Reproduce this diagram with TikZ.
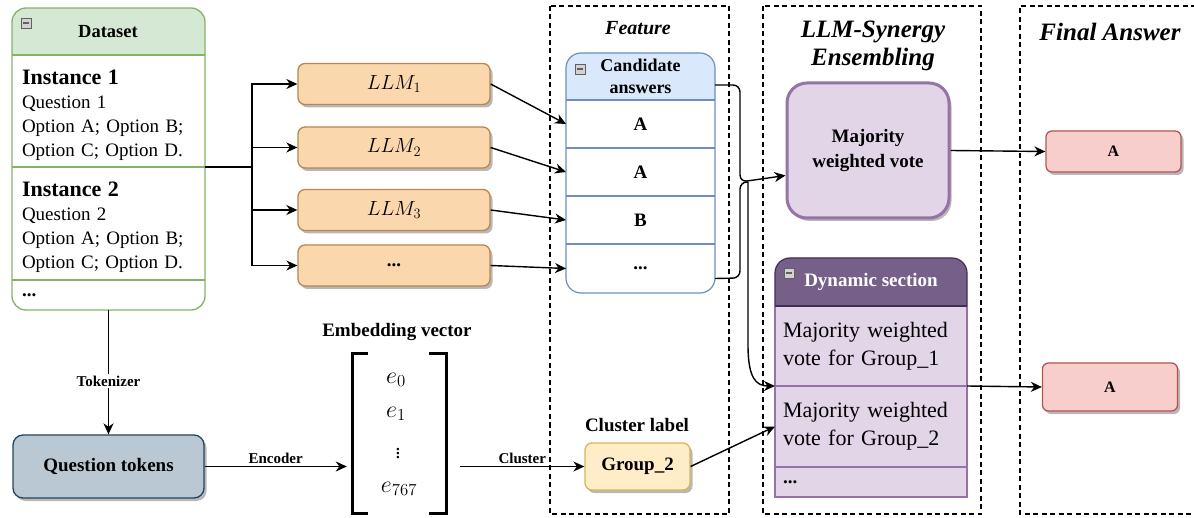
\RequirePackage{fix-cm}
\documentclass[tikz,border=0pt]{standalone}
\usepackage[no-math]{fontspec}
\setmainfont{Liberation Serif}
\usetikzlibrary{arrows.meta,shadows}
\definecolor{dsFill}{HTML}{D5E8D4}
\definecolor{dsLine}{HTML}{82B366}
\definecolor{caFill}{HTML}{DAE8FC}
\definecolor{caLine}{HTML}{6C8EBF}
\definecolor{llmFill}{HTML}{FAD7AC}
\definecolor{llmLine}{HTML}{B9874F}
\definecolor{qtFill}{HTML}{BAC8D3}
\definecolor{qtLine}{HTML}{23445D}
\definecolor{puFill}{HTML}{E1D5E7}
\definecolor{puLine}{HTML}{9673A6}
\definecolor{puHead}{HTML}{76608A}
\definecolor{puHeadLine}{HTML}{432D57}
\definecolor{faFill}{HTML}{F8CECC}
\definecolor{faLine}{HTML}{B85450}
\definecolor{grFill}{HTML}{FFEDC8}
\definecolor{grLine}{HTML}{D6B656}
\newcommand{\myfs}[2]{\fontsize{#1}{#2}\selectfont}
\begin{document}
\begin{tikzpicture}[x=1pt,y=-1pt,
  arr/.style={line width=1.4pt, -{Stealth[length=11pt,width=10pt,inset=3.5pt]}},
  plain/.style={line width=1.4pt},
  dashbox/.style={line width=1.3pt, dash pattern=on 5pt off 3.5pt},
  shad/.style={drop shadow={shadow xshift=2.5pt, shadow yshift=-3pt, opacity=0.28, fill=black}},
  cell/.style={anchor=north west, inner sep=0pt, outer sep=0pt},
  dstext/.style={anchor=north west, text width=173pt, inner xsep=10pt, inner ysep=0pt, outer sep=0pt, align=left, font=\myfs{19}{24}},
  dytext/.style={anchor=north west, text width=176pt, inner xsep=8pt, inner ysep=0pt, outer sep=0pt, align=left, font=\myfs{22}{28}},
  llm/.style={draw=llmLine, fill=llmFill, line width=1.3pt, rounded corners=7pt, minimum width=192pt, minimum height=41pt, inner sep=0pt, font=\myfs{20.5}{24}, shad},
  fans/.style={draw=faLine, fill=faFill, line width=1.3pt, rounded corners=6pt, minimum width=135pt, inner sep=0pt, font=\myfs{16}{20}\bfseries, shad},
  elab/.style={font=\myfs{15}{18}\bfseries, inner sep=2pt},
  ttl/.style={font=\myfs{25}{28}\bfseries\itshape, align=center},
  vec/.style={font=\myfs{24}{26}, inner sep=1pt},
  mini/.style={draw=gray!75!black, fill=gray!35, line width=0.6pt, minimum size=10pt, inner sep=0pt,
    path picture={\draw[line width=1.3pt] ([xshift=-3pt]path picture bounding box.center) -- ([xshift=3pt]path picture bounding box.center);}}
]
\useasboundingbox (0,0) rectangle (1194,518);

% ---------- dashed regions ----------
\draw[dashbox] (550,6) rectangle (729,514);
\draw[dashbox] (763,6) rectangle (981,514);
\draw[dashbox] (1196,6) -- (1020,6) -- (1020,514) -- (1196,514);
\node[font=\myfs{20}{24}\bfseries\itshape] (tfeat) at (638,28) {Feature};
\node[ttl] (tsyn) at (873,46) {LLM-Synergy\\Ensembling};
\node[ttl] (tfin) at (1110,32) {Final Answer};

% ---------- Dataset ----------
\begin{scope}
\clip (12,8) rectangle (205,55);
\fill[dsFill, rounded corners=14pt] (12,8) rectangle (205,310);
\end{scope}
\draw[dsLine, line width=1.3pt] (12,55) -- (205,55) (12,167) -- (205,167) (12,280) -- (205,280);
\draw[dsLine, line width=1.3pt, rounded corners=14pt] (12,8) rectangle (205,310);
\node[mini] (mds) at (26,23) {};
\node[font=\myfs{18.5}{22}\bfseries] (dshead) at (108,32) {Dataset};
\node[dstext, minimum height=120pt] (inst1) at (12,55) {{\myfs{22}{26}\bfseries Instance 1}\\Question 1\\Option A; Option B;\\Option C; Option D.};
\node[dstext, minimum height=121pt] (inst2) at (12,167) {{\myfs{22}{26}\bfseries Instance 2}\\Question 2\\Option A; Option B;\\Option C; Option D.};
\node[dstext, minimum height=30pt] (dsdots) at (12,280) {\textbf{...}};

% ---------- Question tokens ----------
\node[draw=qtLine, fill=qtFill, line width=1.3pt, rounded corners=10pt, minimum width=191pt, minimum height=63pt, font=\myfs{19}{22}\bfseries, shad] (qt) at (108.5,466.5) {Question tokens};
\draw[arr] (dsdots.south) -- (qt.north) node[elab, fill=white, pos=0.57] {Tokenizer};

% ---------- Embedding vector ----------
\node[font=\myfs{19}{22}\bfseries] (embt) at (397,332) {Embedding vector};
\node[minimum width=113pt, minimum height=160pt, inner sep=0pt] (emb) at (403.5,433) {};
\draw[line width=3pt] (368,354) -- (352,354) -- (352,513) -- (368,513);
\draw[line width=3pt] (429,354) -- (446,354) -- (446,513) -- (429,513);
\node[vec] (e0) at (396,380) {$e_0$};
\node[vec] (e1) at (396,414) {$e_1$};
\node[font=\myfs{21}{22}, inner sep=0pt] (ev) at (398,451) {$\vdots$};
\node[vec] (e767) at (399,489) {$e_{767}$};
\draw[arr] (qt.east) -- (qt.east -| emb.west) node[elab, midway, above=0pt] {Encoder};

% ---------- LLMs ----------
\node[llm] (llm1) at (394,84) {$LLM_1$};
\node[llm] (llm2) at (394,147.5) {$LLM_2$};
\node[llm] (llm3) at (394,210) {$LLM_3$};
\node[llm, font=\myfs{19}{22}\bfseries] (llm4) at (394,265.5) {...};
\coordinate (split) at (252,167);
\draw[plain] (split -| inst1.east) -- (split);
\draw[arr] (split) |- (llm1.west);
\draw[arr] (split) |- (llm2.west);
\draw[arr] (split) |- (llm3.west);
\draw[arr] (split) |- (llm4.west);

% ---------- Candidate answers ----------
\begin{scope}
\clip (566,53) rectangle (715,100);
\fill[caFill, rounded corners=15pt] (566,53) rectangle (715,293);
\end{scope}
\draw[caLine, line width=1.2pt] (566,100) -- (715,100) (566,148) -- (715,148) (566,196) -- (715,196) (566,244) -- (715,244);
\draw[caLine, line width=1.2pt, rounded corners=15pt] (566,53) rectangle (715,293);
\node[cell, minimum width=149pt, minimum height=47pt, align=center, font=\myfs{18}{22}\bfseries] (ch) at (566,53) {Candidate\\answers};
\node[mini] (mca) at (580,69) {};
\node[cell, minimum width=149pt, minimum height=48pt, font=\myfs{19}{22}\bfseries] (cA) at (566,100) {A};
\node[cell, minimum width=149pt, minimum height=48pt, font=\myfs{19}{22}\bfseries] (cA2) at (566,148) {A};
\node[cell, minimum width=149pt, minimum height=48pt, font=\myfs{19}{22}\bfseries] (cB) at (566,196) {B};
\node[cell, minimum width=149pt, minimum height=49pt, font=\myfs{19}{22}\bfseries] (cdots) at (566,244) {...};
\draw[arr] (llm1.east) -- (cA.west);
\draw[arr] (llm2.east) -- (cA2.west);
\draw[arr] (llm3.east) -- (cB.west);
\draw[arr] (llm4.east) -- (cdots.west);

% ---------- Cluster label ----------
\node[font=\myfs{19}{22}\bfseries] (clt) at (637,425) {Cluster label};
\node[draw=grLine, fill=grFill, line width=1.3pt, rounded corners=7pt, minimum width=105pt, minimum height=47pt, inner sep=0pt, font=\myfs{19}{22}\bfseries, shad] (g2) at (637.5,466.5) {Group\_2};
\draw[arr] (qt.east -| emb.east) -- (g2.west) node[elab, midway, above=0pt] {Cluster};

% ---------- Majority weighted vote ----------
\node[draw=puLine, fill=puFill, line width=3pt, rounded corners=20pt, minimum width=162pt, minimum height=135pt, align=center, font=\myfs{19}{25}\bfseries, shad] (maj) at (868,150.5) {Majority\\weighted vote};

% ---------- Dynamic section ----------
\begin{scope}
\clip (775,258) rectangle (967,306);
\fill[puHead, rounded corners=15pt] (775,258) rectangle (967,497);
\end{scope}
\fill[puFill] (775,306) rectangle (967,497);
\draw[puLine, line width=1.2pt] (775,306) -- (775,497) -- (967,497) -- (967,306);
\draw[puLine, line width=1.2pt] (775,386) -- (967,386) (775,467) -- (967,467);
\draw[puHeadLine, line width=1.2pt, rounded corners=15pt] (775,306) -- (775,258) -- (967,258) -- (967,306);
\draw[puHeadLine, line width=1.2pt] (775,306) -- (967,306);
\node[cell, minimum width=192pt, minimum height=48pt, text=white, font=\myfs{19}{22}\bfseries] (dh) at (775,258) {Dynamic section};
\node[mini] (mdy) at (789,273) {};
\node[dytext, minimum height=80pt] (d1) at (775,306) {Majority weighted\\vote for Group\_1};
\node[dytext, minimum height=81pt] (d2) at (775,386) {Majority weighted\\vote for Group\_2};
\node[dytext, minimum height=30pt, font=\myfs{19}{22}\bfseries] (d3) at (775,467) {...};

% ---------- brace connectors ----------
\coordinate (merge) at (748,182);
\draw[arr, rounded corners=7pt] ([yshift=15pt]ch.south east) -- (740,85) -- (740,182) -- ([yshift=-25pt]maj.west);
\draw[plain, rounded corners=7pt] ([yshift=-10pt]cdots.east) -- (740,278) -- (740,182) -- (merge);
\draw[arr] (merge) -- (748,345) .. controls (748,378) and (756,386) .. (d1.south west);
\draw[arr] (g2.east) -- (d2.west);

% ---------- final answers ----------
\node[fans, minimum height=41pt] (fa1) at (1113.5,151.5) {A};
\node[fans, minimum height=48pt] (fa2) at (1110,387) {A};
\draw[arr] (maj.east) -- (fa1.west);
\draw[arr] (d1.south east) -- (fa2.west);
\end{tikzpicture}
\end{document}
